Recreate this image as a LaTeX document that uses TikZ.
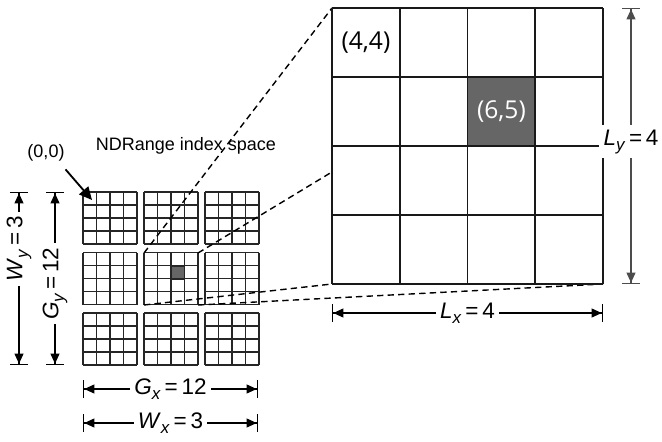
\documentclass[tikz,border=0pt]{standalone}
\usepackage{fontspec}
\setmainfont{Liberation Sans}
\newfontfamily\cellfont{Open Sans}
\usetikzlibrary{arrows.meta,positioning}

\newcommand{\dimlab}[3]{\textit{#1}\raisebox{-0.45ex}{\fontsize{12}{12}\selectfont\textit{#2}}\,=\,#3}

\begin{document}
\begin{tikzpicture}[x=0.025cm, y=-0.025cm,
    wg/.style={draw=black!85, line width=1.3pt},
    bg/.style={draw=black!90, line width=1.1pt},
    zoomline/.style={dash pattern=on 4.5pt off 3pt, line width=1pt},
    dimline/.style={line width=0.9pt, {Bar[width=0.45cm]Triangle[length=0.25cm,width=0.22cm]}-{Triangle[length=0.25cm,width=0.22cm]Bar[width=0.45cm]}},
    dimlbl/.style={fill=white, inner sep=3pt, font=\fontsize{16}{18}\selectfont},
    lbl/.style={font=\fontsize{12.8}{15}\selectfont},
    cell/.style={font=\cellfont\fontsize{17.5}{20}\selectfont}
  ]
  \useasboundingbox (0,0) rectangle (662,441);

  % work-groups, 3x3, each 4x4 work-items
  \foreach \i in {0,1,2}{
    \foreach \j in {0,1,2}{
      \begin{scope}[shift={(83+61*\i,192+60.5*\j)}]
        \foreach \k in {0,...,4}{
          \draw[wg] (13.5*\k,0) -- (13.5*\k,52);
          \draw[wg] (0,13*\k) -- (54,13*\k);
        }
      \end{scope}
    }
  }
  \fill[black!60, draw=black!85, line width=1.3pt] (171,266) rectangle (184.5,279);

  \coordinate (midnw) at (144,253);
  \coordinate (midne) at (198,253);
  \coordinate (midsw) at (144,305);
  \coordinate (midse) at (198,305);
  \coordinate (bignw) at (332,8);
  \coordinate (bigne) at (603,8);
  \coordinate (bigsw) at (332,284);
  \coordinate (bigse) at (603,284);

  \node[lbl] (ndr) at (186,146) {NDRange index space};
  \node[lbl] (orig) at (46,153) {(0,0)};
  \coordinate (first) at (92,200);
  \draw[line width=1.3pt, -{Triangle[length=0.32cm,width=0.3cm]}] (orig.south east) ++(-4,3) -- (first);

  % zoom lines
  \draw[zoomline] (midnw) -- (bignw);
  \draw[zoomline] (midne) -- (bigne);
  \draw[zoomline] (midsw) -- (bigsw);
  \draw[zoomline] (midse) -- (bigse);

  % one work-group, enlarged
  \fill[white] (bignw) rectangle (bigse);
  \fill[black!60] (467.5,77) rectangle (535.25,146);
  \foreach \k in {0,...,4}{
    \draw[bg] (332+67.75*\k,8) -- (332+67.75*\k,284);
    \draw[bg] (332,8+69*\k) -- (603,8+69*\k);
  }
  \node[cell] (c44) at (365.9,42.5) {(4,4)};
  \node[cell, text=white] (c65) at (501.4,111.5) {(6,5)};

  % dimensions
  \draw[dimline] (19,192) -- node[dimlbl, rotate=90, pos=0.33] {\dimlab{W}{y}{3}} (19,365);
  \draw[dimline] (55,192) -- node[dimlbl, rotate=90, pos=0.53] {\dimlab{G}{y}{12}} (55,365);
  \draw[dimline] (83,389) -- node[dimlbl] {\dimlab{G}{x}{12}} (258,389);
  \draw[dimline] (83,423) -- node[dimlbl] {\dimlab{W}{x}{3}} (258,423);
  \draw[dimline] (bigsw) ++(0,29) -- node[dimlbl] {\dimlab{L}{x}{4}} (603,313);
  \draw[dimline, black!70] (631,8) -- node[dimlbl, text=black, pos=0.485] {\dimlab{L}{y}{4}} (631,284);
\end{tikzpicture}
\end{document}
